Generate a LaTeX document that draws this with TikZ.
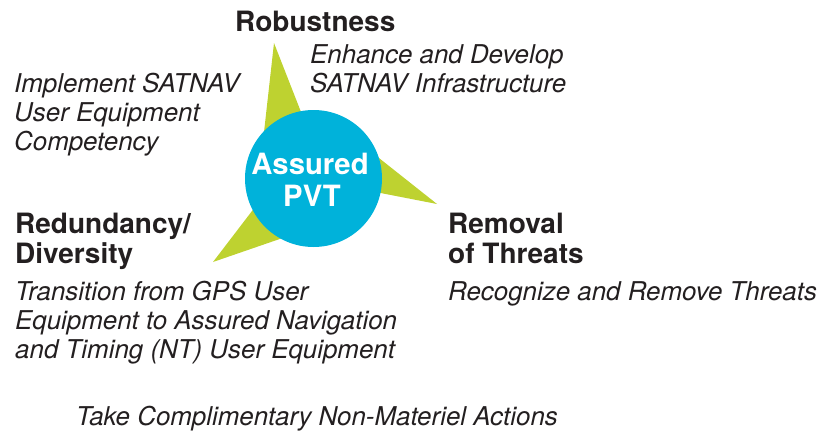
\documentclass[tikz,border=0pt]{standalone}
\usepackage{fontspec}
\setmainfont{TeX Gyre Heros}
\definecolor{spikegreen}{RGB}{190,210,48}
\definecolor{hubblue}{RGB}{0,178,218}
\definecolor{txt}{RGB}{35,31,32}
\begin{document}
\begin{tikzpicture}[x=1pt,y=-1pt,
  title/.style={font=\fontsize{28}{30}\selectfont\bfseries, text=txt, inner sep=0, anchor=base west},
  desc/.style={font=\fontsize{25.9}{29}\selectfont\itshape, text=txt, inner sep=0, anchor=base west},
  hubtext/.style={font=\fontsize{29.3}{31}\selectfont\bfseries, text=white, inner sep=0, anchor=base}]
\useasboundingbox (0,0) rectangle (819,434);
% spikes
\fill[spikegreen] (274,43) -- (262,150) -- (310,135) -- cycle;
\fill[spikegreen] (437,204) -- (360,143) -- (360,189) -- cycle;
\fill[spikegreen] (213,262) -- (265,194) -- (300,232) -- cycle;
% hub
\node[circle, fill=hubblue, minimum size=137, inner sep=0] (hub) at (313.5,178.5) {};
\node[hubtext] (assured) at (310,174) {Assured};
\node[hubtext] (pvt) at (312,206) {PVT};
% titles
\node[title] (rob) at (235,31) {Robustness};
\node[title] (red1) at (15,233) {Redundancy/};
\node[title] (red2) at (15,263) {Diversity};
\node[title] (rem1) at (448,233) {Removal};
\node[title] (rem2) at (448,263) {of Threats};
% descriptions
\node[desc] (enh1) at (310,63) {Enhance and Develop};
\node[desc] (enh2) at (310,92) {SATNAV Infrastructure};
\node[desc] (imp1) at (14,92) {Implement SATNAV};
\node[desc] (imp2) at (14,121) {User Equipment};
\node[desc] (imp3) at (14,150) {Competency};
\node[desc] (tra1) at (15,300) {Transition from GPS User};
\node[desc] (tra2) at (15,329) {Equipment to Assured Navigation};
\node[desc] (tra3) at (15,358) {and Timing (NT) User Equipment};
\node[desc] (rec) at (448,300) {Recognize and Remove Threats};
\node[desc] (take) at (76,425) {Take Complimentary Non-Materiel Actions};
\end{tikzpicture}
\end{document}
